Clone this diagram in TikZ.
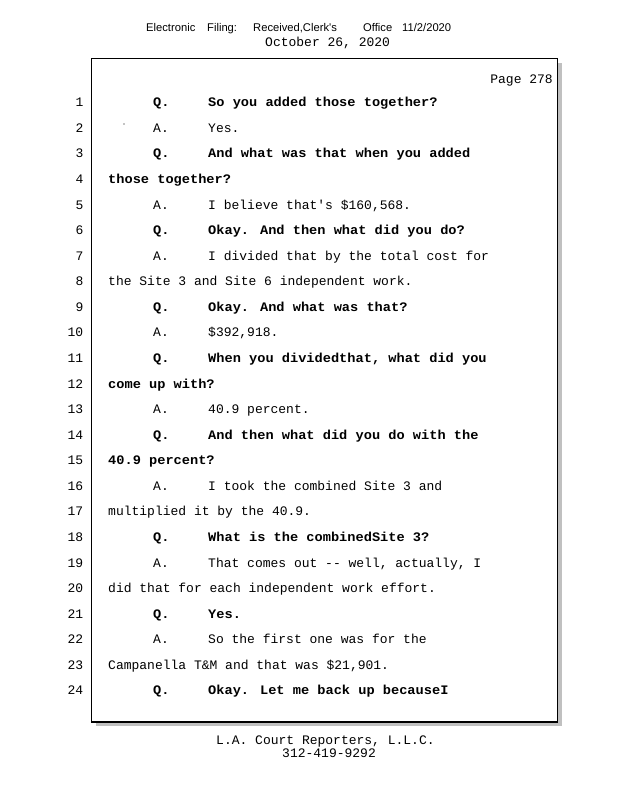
\documentclass[tikz,border=0pt]{standalone}
\usepackage{fontspec}
\newfontfamily\transfont{Liberation Mono}
\newfontfamily\questfont[FakeStretch=1.05]{Liberation Mono}
\newfontfamily\headfont{Liberation Sans}
\definecolor{shadowgray}{RGB}{192,192,192}
\tikzset{
  txt/.style={anchor=base west, inner sep=0pt, font=\transfont\fontsize{13}{13}\selectfont},
  qtxt/.style={txt, font=\questfont\bfseries\fontsize{13}{13}\selectfont},
  num/.style={anchor=base east, inner sep=0pt, font=\transfont\fontsize{13}{13}\selectfont},
  head/.style={anchor=base west, inner sep=0pt, font=\headfont\fontsize{11.2}{11.2}\selectfont},
}
\begin{document}
\begin{tikzpicture}[x=1pt,y=-1pt]
                \useasboundingbox (0,0) rectangle (618,800);
                
                % Header
                \draw (146,32) node [head] (hElectronic) {Electronic};%
                \draw (207,32) node [head] (hFiling) {Filing:};%
                \draw (253,32) node [head] (hReceived) {Received,Clerk\textquotesingle s};%
                \draw (363,32) node [head] (hOffice) {Office};%
                \draw (402,32) node [head] (hDate) {11/2/2020};%
                \draw (265,46.7) node [txt] (hearing) {October 26, 2020};%
                
                % Drawing page box with shadow
                \fill [shadowgray] (96,63) rectangle (562,726);%
                \draw [line width=1.3pt, fill=white] (91.5,58.5) rectangle (557.5,722);%
                \draw (553,84) node [anchor=base east, inner sep=0pt, font=\transfont\fontsize{13}{13}\selectfont] (page) {Page 278};%
                
                % Line numbers
                \draw (83.5,106.80) node [num] (n1) {1};%
                \draw (83.5,132.37) node [num] (n2) {2};%
                \draw (83.5,157.94) node [num] (n3) {3};%
                \draw (83.5,183.51) node [num] (n4) {4};%
                \draw (83.5,209.08) node [num] (n5) {5};%
                \draw (83.5,234.65) node [num] (n6) {6};%
                \draw (83.5,260.22) node [num] (n7) {7};%
                \draw (83.5,285.79) node [num] (n8) {8};%
                \draw (83.5,311.36) node [num] (n9) {9};%
                \draw (83.5,336.93) node [num] (n10) {10};%
                \draw (83.5,362.50) node [num] (n11) {11};%
                \draw (83.5,388.07) node [num] (n12) {12};%
                \draw (83.5,413.64) node [num] (n13) {13};%
                \draw (83.5,439.21) node [num] (n14) {14};%
                \draw (83.5,464.78) node [num] (n15) {15};%
                \draw (83.5,490.35) node [num] (n16) {16};%
                \draw (83.5,515.92) node [num] (n17) {17};%
                \draw (83.5,541.49) node [num] (n18) {18};%
                \draw (83.5,567.06) node [num] (n19) {19};%
                \draw (83.5,592.63) node [num] (n20) {20};%
                \draw (83.5,618.20) node [num] (n21) {21};%
                \draw (83.5,643.77) node [num] (n22) {22};%
                \draw (83.5,669.34) node [num] (n23) {23};%
                \draw (83.5,694.91) node [num] (n24) {24};%
                
                % Speaker marks Q. and A.
                \draw (153,106.80) node [qtxt] (s1) {Q.};%
                \draw (153,132.37) node [txt] (s2) {A.};%
                \draw (153,157.94) node [qtxt] (s3) {Q.};%
                \draw (153,209.08) node [txt] (s5) {A.};%
                \draw (153,234.65) node [qtxt] (s6) {Q.};%
                \draw (153,260.22) node [txt] (s7) {A.};%
                \draw (153,311.36) node [qtxt] (s9) {Q.};%
                \draw (153,336.93) node [txt] (s10) {A.};%
                \draw (153,362.50) node [qtxt] (s11) {Q.};%
                \draw (153,413.64) node [txt] (s13) {A.};%
                \draw (153,439.21) node [qtxt] (s14) {Q.};%
                \draw (153,490.35) node [txt] (s16) {A.};%
                \draw (153,541.49) node [qtxt] (s18) {Q.};%
                \draw (153,567.06) node [txt] (s19) {A.};%
                \draw (153,618.20) node [qtxt] (s21) {Q.};%
                \draw (153,643.77) node [txt] (s22) {A.};%
                \draw (153,694.91) node [qtxt] (s24) {Q.};%
                
                % Stray dot on line 2
                \fill (124,124) circle (0.7);%
                
                % Testimony text
                \draw (208,106.80) node [qtxt] (t1) {So you added those together?};%
                \draw (208,132.37) node [txt] (t2) {Yes.};%
                \draw (208,157.94) node [qtxt] (t3) {And what was that when you added};%
                \draw (108,183.51) node [qtxt] (t4) {those together?};%
                \draw (208,209.08) node [txt] (t5) {I believe that\textquotesingle s \$160,568.};%
                \draw (208,234.65) node [qtxt] (t6) {Okay. And then what did you do?};%
                \draw (208,260.22) node [txt] (t7) {I divided that by the total cost for};%
                \draw (108,285.79) node [txt] (t8) {the Site 3 and Site 6 independent work.};%
                \draw (208,311.36) node [qtxt] (t9) {Okay. And what was that?};%
                \draw (208,336.93) node [txt] (t10) {\$392,918.};%
                \draw (208,362.50) node [qtxt] (t11) {When you dividedthat, what did you};%
                \draw (108,388.07) node [qtxt] (t12) {come up with?};%
                \draw (208,413.64) node [txt] (t13) {40.9 percent.};%
                \draw (208,439.21) node [qtxt] (t14) {And then what did you do with the};%
                \draw (108,464.78) node [qtxt] (t15) {40.9 percent?};%
                \draw (208,490.35) node [txt] (t16) {I took the combined Site 3 and};%
                \draw (108,515.92) node [txt] (t17) {multiplied it by the 40.9.};%
                \draw (208,541.49) node [qtxt] (t18) {What is the combinedSite 3?};%
                \draw (208,567.06) node [txt] (t19) {That comes out -{}- well, actually, I};%
                \draw (108,592.63) node [txt] (t20) {did that for each independent work effort.};%
                \draw (208,618.20) node [qtxt] (t21) {Yes.};%
                \draw (208,643.77) node [txt] (t22) {So the first one was for the};%
                \draw (108,669.34) node [txt] (t23) {Campanella T\&M and that was \$21,901.};%
                \draw (208,694.91) node [qtxt] (t24) {Okay. Let me back up becauseI};%
                
                % Footer
                \draw (216,744) node [txt] (firm) {L.A. Court Reporters, L.L.C.};%
                \draw (282,757) node [txt] (phone) {312-419-9292};%
\end{tikzpicture}
\end{document}
